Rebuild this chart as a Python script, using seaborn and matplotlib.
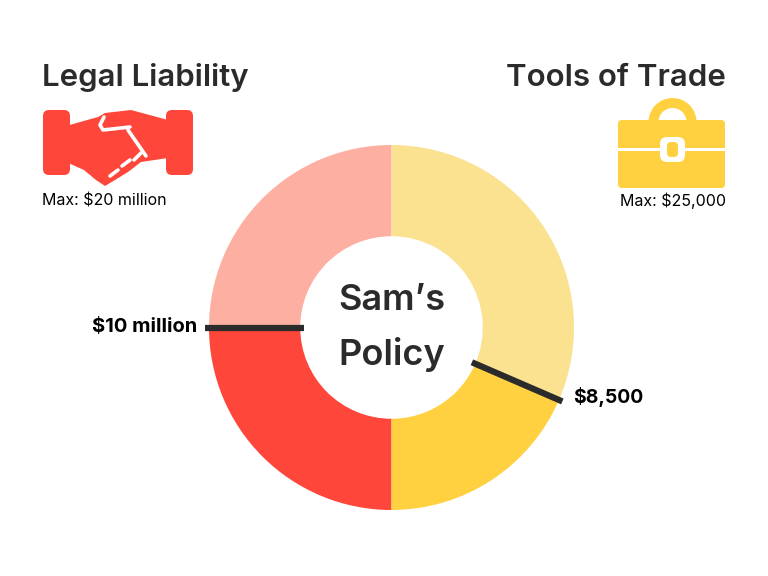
import numpy as np
import matplotlib.pyplot as plt
import seaborn as sns
from matplotlib.patches import FancyBboxPatch, Polygon, Wedge, Rectangle

sns.set_theme(style='white')
plt.rcParams['font.family'] = ['Inter', 'DejaVu Sans']

# data
categories = ['Legal Liability', 'Tools of Trade']
max_labels = ['Max: $20 million', 'Max: $25,000']
policy_labels = ['$10 million', '$8,500']
# share of each half that is covered, as drawn in the chart
covered_share = [0.50, 0.37]

light_cols = ['#FDB0A2', '#FBE291']
dark_cols = ['#FF463A', '#FFD141']
ink = '#2b2b2b'

fig = plt.figure(figsize=(7.68, 5.76), dpi=100)

# donut: centre (391.5, 327.5) px, radius 182.5 px
cx, cy, r = 391.5, 327.5, 182.5
ax = fig.add_axes([(cx - r) / 768, (576 - cy - r) / 576, 2 * r / 768, 2 * r / 576])

# each category owns one half of the ring (180 deg), filled from the bottom
sizes = [
    (1 - covered_share[0]) * 180, covered_share[0] * 180,
    covered_share[1] * 180, (1 - covered_share[1]) * 180,
]
colors = [light_cols[0], dark_cols[0], dark_cols[1], light_cols[1]]
ax.pie(sizes, colors=colors, startangle=90, counterclock=True,
       wedgeprops=dict(width=0.5, linewidth=0))
ax.set_xlim(-1, 1)
ax.set_ylim(-1, 1)
ax.set_aspect('equal')
ax.axis('off')

# marker lines at the boundary between covered and uncovered parts
bounds = [90 + sizes[0], 270 + sizes[2]]
for ang in bounds:
    t = np.deg2rad(ang)
    ax.plot([0.48 * np.cos(t), 1.02 * np.cos(t)], [0.48 * np.sin(t), 1.02 * np.sin(t)],
            color=ink, lw=4.5, solid_capstyle='butt', clip_on=False, zorder=5)

t0, t1 = np.deg2rad(bounds[0]), np.deg2rad(bounds[1])
ax.text(1.02 * np.cos(t0) - 0.045, 1.02 * np.sin(t0), policy_labels[0], ha='right', va='center',
        fontsize=14.5, fontweight='bold', color='black')
ax.text(1.02 * np.cos(t1) + 0.06, 1.02 * np.sin(t1) + 0.025, policy_labels[1], ha='left', va='center',
        fontsize=14, fontweight='bold', color='black')

ax.text(0, 0.15, 'Sam\u2019s', ha='center', va='center', fontsize=26, fontweight='semibold', color=ink)
ax.text(0, -0.15, 'Policy', ha='center', va='center', fontsize=26, fontweight='semibold', color=ink)

# overlay in pixel coordinates for titles and icons
ov = fig.add_axes([0, 0, 1, 1], zorder=-1)
ov.set_xlim(0, 768)
ov.set_ylim(576, 0)
ov.axis('off')

ov.text(42, 78, categories[0], ha='left', va='center', fontsize=22.5, fontweight='semibold', color=ink)
ov.text(726, 78, categories[1], ha='right', va='center', fontsize=22.5, fontweight='semibold', color=ink)
ov.text(42, 201, max_labels[0], ha='left', va='center', fontsize=11.5, color='black')
ov.text(726, 201, max_labels[1], ha='right', va='center', fontsize=11.5, color='black')

# handshake icon
red = dark_cols[0]
ov.add_patch(FancyBboxPatch((43, 110), 27, 65, boxstyle='round,pad=0,rounding_size=6', fc=red, ec='none'))
ov.add_patch(FancyBboxPatch((166, 110), 27, 65, boxstyle='round,pad=0,rounding_size=6', fc=red, ec='none'))
hands = [(66, 126), (98, 117), (105, 113), (131, 110), (168, 120),
         (168, 158), (141, 162), (128, 172), (115, 180), (105, 186), (96, 180), (84, 170), (66, 162)]
ov.add_patch(Polygon(hands, closed=True, fc=red, ec='none'))
wl = 2.6
ov.plot([104, 100, 103, 130], [117, 125, 130, 127], color='white', lw=wl,
        solid_capstyle='round', solid_joinstyle='round')
ov.plot([128, 146], [130, 156], color='white', lw=wl, solid_capstyle='round')
for x0, y0, x1, y1 in [(110, 176, 118, 170), (122, 166, 130, 160), (134, 160, 141, 153)]:
    ov.plot([x0, x1], [y0, y1], color='white', lw=wl, solid_capstyle='round')

# briefcase icon
yel = dark_cols[1]
ov.add_patch(Wedge((672.5, 122), 24, 180, 360, width=10, fc=yel, ec='none'))
ov.add_patch(FancyBboxPatch((618, 120), 107, 68, boxstyle='round,pad=0,rounding_size=4', fc=yel, ec='none'))
ov.add_patch(Rectangle((618, 148), 107, 3, fc='white', ec='none'))
ov.add_patch(FancyBboxPatch((660, 137), 25, 25, boxstyle='round,pad=0,rounding_size=7', fc='white', ec='none'))
ov.add_patch(FancyBboxPatch((667, 142), 11, 15, boxstyle='round,pad=0,rounding_size=4', fc=yel, ec='none'))

fig.savefig('out.png', dpi=100)
